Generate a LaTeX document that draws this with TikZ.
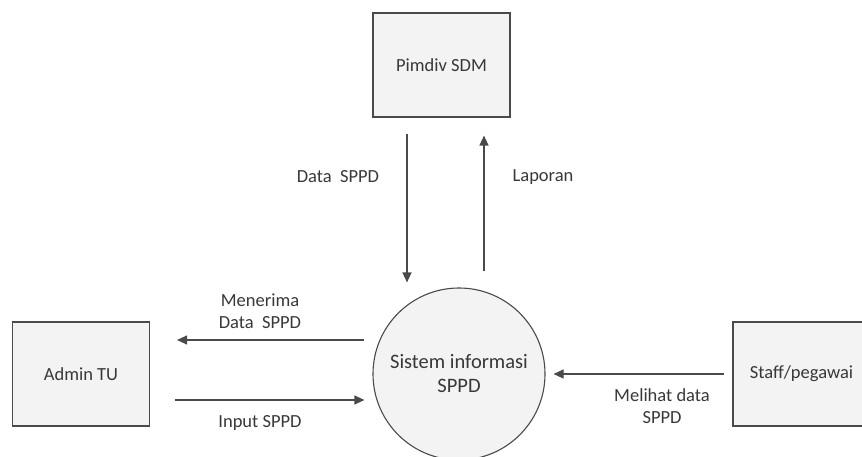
\documentclass[tikz,border=0pt]{standalone}
\usepackage{fontspec}
\setmainfont{Carlito}
\usetikzlibrary{arrows.meta}

\definecolor{garis}{HTML}{4A4A4A}
\definecolor{teks}{HTML}{383838}
\definecolor{isi}{HTML}{F3F3F3}

\tikzset{
  kotak/.style={rectangle, draw=garis, line width=1.1pt, fill=isi, text=teks,
    minimum width=137pt, minimum height=104pt, font=\fontsize{18.5}{22}\selectfont},
  proses/.style={circle, draw=garis, line width=1.1pt, fill=isi, text=teks, align=center,
    minimum size=172pt, inner sep=0pt, font=\fontsize{20.5}{24}\selectfont},
  alur/.style={draw=garis, line width=1.1pt, -{Triangle[length=10pt,width=9pt]}},
  ket/.style={text=teks, align=center, font=\fontsize{18.5}{22}\selectfont}
}

\begin{document}
\begin{tikzpicture}[x=1pt,y=-1pt]
			\useasboundingbox (0,0) rectangle (862,457);
			\clip (0,0) rectangle (862,457);

			% Entitas luar dan proses
			\node at (441.5,65) [kotak] (pimdiv) {Pimdiv SDM};
			\node at (81,374) [kotak] (admin) {Admin TU};
			\node at (801.5,374) [kotak] (staff) {Staff/pegawai};
			\node at (459,374) [proses] (sistem) {Sistem informasi\\SPPD};

			% Aliran data
			\draw[alur] ([xshift=-34.5pt,yshift=-16pt]pimdiv.south) -- ([xshift=-52pt,yshift=5pt]sistem.north);
			\draw[alur] ([xshift=25pt,yshift=16pt]sistem.north) -- ([xshift=42.5pt,yshift=-18pt]pimdiv.south);
			\draw[alur] ([xshift=-8pt,yshift=34pt]sistem.west) -- ([xshift=27pt,yshift=34pt]admin.east);
			\draw[alur] ([xshift=25pt,yshift=-26pt]admin.east) -- ([xshift=-8pt,yshift=-26pt]sistem.west);
			\draw[alur] ([xshift=-8pt]staff.west) -- ([xshift=8pt]sistem.east);

			% Keterangan
			\node at (338,177) [ket] (kdata) {Data~ SPPD};
			\node at (543,177) [ket] (klaporan) {Laporan};
			\node at (260,311) [ket] (kterima) {Menerima\\Data~ SPPD};
			\node at (260,423) [ket] (kinput) {Input SPPD};
			\node at (662,406) [ket] (klihat) {Melihat data\\SPPD};
		\end{tikzpicture}
\end{document}
